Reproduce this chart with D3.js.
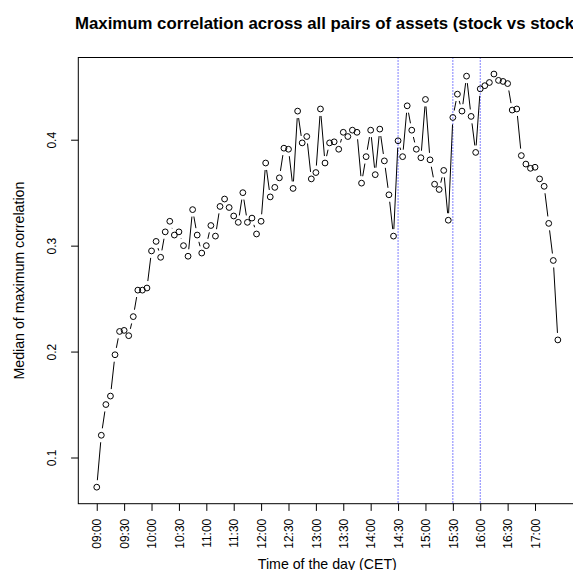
<!DOCTYPE html>
<html lang="en">
<head>
    <meta charset="UTF-8">
    <title>Maximum correlation across all pairs of assets</title>
    <script src="https://d3js.org/d3.v7.min.js"></script>
    <style>
        body { margin: 0; background: #fff; }
        svg { display: block; font-family: "Liberation Sans", Arial, sans-serif; }
        .axis text { font-size: 12px; fill: #000; }
        .axis line { stroke: #000; }
    </style>
</head>
<body>
    <div id="chart"></div>

    <script>
        // Median of maximum correlation, one value every 5 minutes from 09:00
        const values = [
            0.072, 0.121, 0.150, 0.158, 0.197, 0.219, 0.220, 0.215, 0.233, 0.258,
            0.258, 0.260, 0.295, 0.304, 0.289, 0.313, 0.323, 0.310, 0.313, 0.300,
            0.290, 0.334, 0.310, 0.293, 0.300, 0.319, 0.309, 0.337, 0.344, 0.336,
            0.328, 0.322, 0.350, 0.322, 0.326, 0.311, 0.323, 0.378, 0.346, 0.355,
            0.364, 0.392, 0.391, 0.354, 0.427, 0.397, 0.403, 0.363, 0.369, 0.429,
            0.378, 0.397, 0.398, 0.391, 0.407, 0.403, 0.409, 0.407, 0.359, 0.384,
            0.409, 0.367, 0.410, 0.380, 0.348, 0.309, 0.399, 0.384, 0.432, 0.409,
            0.391, 0.383, 0.438, 0.381, 0.358, 0.353, 0.371, 0.324, 0.421, 0.443,
            0.427, 0.460, 0.422, 0.388, 0.448, 0.451, 0.454, 0.462, 0.456, 0.455,
            0.453, 0.428, 0.429, 0.385, 0.377, 0.373, 0.374, 0.363, 0.356, 0.321,
            0.286, 0.211
        ];

        // Tick labels on the time axis
        const tickLabels = ["09:00", "09:30", "10:00", "10:30", "11:00", "11:30", "12:00",
            "12:30", "13:00", "13:30", "14:00", "14:30", "15:00", "15:30", "16:00", "16:30", "17:00"];

        // Times marked with a dotted line
        const markers = ["14:30", "15:30", "16:00"];

        const yTicks = [0.1, 0.2, 0.3, 0.4];

        // Time of each observation (5 minute steps)
        const times = values.map((v, i) => {
            const m = 9 * 60 + 5 * i;
            return String(Math.floor(m / 60)).padStart(2, "0") + ":" + String(m % 60).padStart(2, "0");
        });

        const width = 573, height = 570;
        const plot = {left: 78.3, right: 576.3, top: 57.5, bottom: 503.7};

        const svg = d3.select("#chart")
            .append("svg")
            .attr("width", width)
            .attr("height", height);

        svg.append("rect")
            .attr("width", width)
            .attr("height", height)
            .attr("fill", "#fff");

        // Scales padded by 4% like R does
        const n = values.length - 1;
        const x = d3.scaleLinear()
            .domain([-0.04 * n, n * 1.04])
            .range([plot.left, plot.right]);

        const [vmin, vmax] = d3.extent(values);
        const pad = (vmax - vmin) * 0.04;
        const y = d3.scaleLinear()
            .domain([vmin - pad, vmax + pad])
            .range([plot.bottom, plot.top]);

        // Dotted session lines
        svg.selectAll(".marker")
            .data(markers)
            .join("line")
            .attr("class", "marker")
            .attr("x1", d => x(times.indexOf(d)))
            .attr("x2", d => x(times.indexOf(d)))
            .attr("y1", plot.top)
            .attr("y2", plot.bottom)
            .attr("stroke", "#0000ff")
            .attr("stroke-width", 1)
            .attr("stroke-dasharray", "1,2");

        // Line segments with gaps around the points (type = "b")
        const gap = 7;
        const segs = [];
        for (let i = 0; i < n; i++) {
            const x0 = x(i), y0 = y(values[i]), x1 = x(i + 1), y1 = y(values[i + 1]);
            const dx = x1 - x0, dy = y1 - y0;
            const d = Math.hypot(dx, dy);
            if (d > 2 * gap) {
                const f = gap / d;
                segs.push([x0 + f * dx, y0 + f * dy, x1 - f * dx, y1 - f * dy]);
            }
        }
        svg.selectAll(".seg")
            .data(segs)
            .join("line")
            .attr("class", "seg")
            .attr("x1", d => d[0]).attr("y1", d => d[1])
            .attr("x2", d => d[2]).attr("y2", d => d[3])
            .attr("stroke", "#000")
            .attr("stroke-width", 1);

        svg.selectAll(".pt")
            .data(values)
            .join("circle")
            .attr("class", "pt")
            .attr("cx", (d, i) => x(i))
            .attr("cy", d => y(d))
            .attr("r", 2.9)
            .attr("fill", "none")
            .attr("stroke", "#000")
            .attr("stroke-width", 1);

        // Box
        svg.append("rect")
            .attr("x", plot.left)
            .attr("y", plot.top)
            .attr("width", plot.right - plot.left)
            .attr("height", plot.bottom - plot.top)
            .attr("fill", "none")
            .attr("stroke", "#000")
            .attr("stroke-width", 1);

        // Axes
        const xAxis = svg.append("g")
            .attr("class", "axis")
            .attr("transform", `translate(0,${plot.bottom})`)
            .call(d3.axisBottom(x)
                .tickValues(tickLabels.map(t => times.indexOf(t)))
                .tickFormat(i => times[i])
                .tickSize(7.2));
        xAxis.select(".domain").remove();
        xAxis.selectAll("text")
            .attr("transform", "rotate(-90)")
            .attr("x", -15)
            .attr("y", 0)
            .attr("dy", "0.35em")
            .style("text-anchor", "end");

        const yAxis = svg.append("g")
            .attr("class", "axis")
            .attr("transform", `translate(${plot.left},0)`)
            .call(d3.axisLeft(y)
                .tickValues(yTicks)
                .tickFormat(d3.format(".1f"))
                .tickSize(7.2));
        yAxis.select(".domain").remove();
        yAxis.selectAll("text")
            .attr("transform", "rotate(-90)")
            .attr("x", 0)
            .attr("y", -22.5)
            .attr("dy", 0)
            .style("text-anchor", "middle");

        // Titles
        svg.append("text")
            .attr("x", (plot.left + plot.right) / 2)
            .attr("y", 28.5)
            .attr("text-anchor", "middle")
            .attr("font-size", "16.8px")
            .attr("font-weight", "bold")
            .text("Maximum correlation across all pairs of assets (stock vs stock)");

        svg.append("text")
            .attr("x", (plot.left + plot.right) / 2)
            .attr("y", 569)
            .attr("text-anchor", "middle")
            .attr("font-size", "14.2px")
            .text("Time of the day (CET)");

        svg.append("text")
            .attr("transform", `translate(23.5,${(plot.top + plot.bottom) / 2}) rotate(-90)`)
            .attr("text-anchor", "middle")
            .attr("font-size", "14.2px")
            .text("Median of maximum correlation");
    </script>
</body>
</html>
